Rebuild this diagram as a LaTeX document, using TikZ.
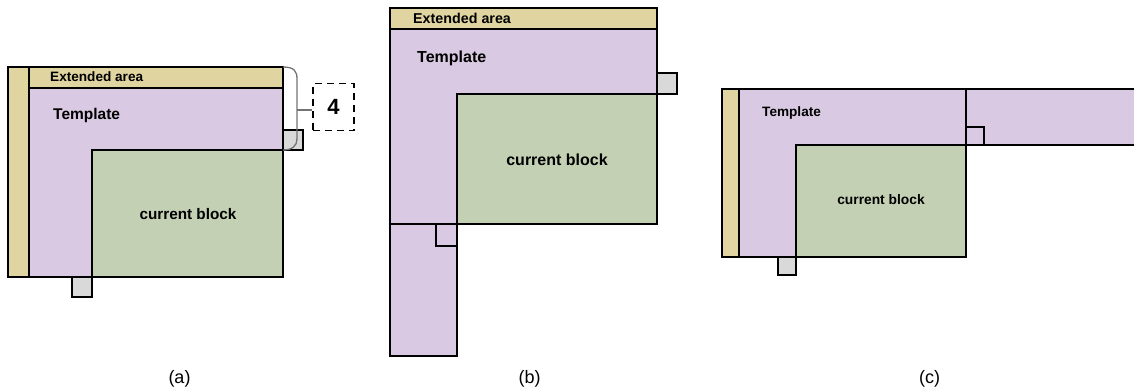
\documentclass[tikz,border=0pt]{standalone}
\usepackage{fontspec}
\setmainfont{Liberation Sans}
\definecolor{tan}{RGB}{224,212,160}
\definecolor{tpl}{RGB}{217,201,226}
\definecolor{cur}{RGB}{195,208,180}
\definecolor{gry}{RGB}{217,217,217}
\begin{document}
\begin{tikzpicture}[x=1pt,y=-1pt,
  edge/.style={draw=black,line width=1.8pt},
  tanbox/.style={edge,fill=tan},
  tplbox/.style={edge,fill=tpl},
  curbox/.style={edge,fill=cur},
  grybox/.style={edge,fill=gry},
  lbl/.style={inner sep=0pt,font=\bfseries},
  captxt/.style={inner sep=0pt,font=\fontsize{18}{20}\selectfont},
  bracestyle/.style={draw=black!55,line width=1.3pt}]
\useasboundingbox (0,0) rectangle (1134,391);

% ---------- (a) ----------
\draw[tanbox] (8,67) rectangle (29,277);
\draw[tanbox] (29,67) rectangle (283,88);
\draw[tplbox] (29,88) rectangle (283,277);
\draw[curbox] (92,150) rectangle (283,277);
\draw[grybox] (72,277) rectangle (92,297);
\draw[grybox] (283,130) rectangle (303,150);
\node[lbl,anchor=west,font=\bfseries\fontsize{13.6}{15}\selectfont] (aext) at (50,77) {Extended area};
\node[lbl,anchor=west,font=\bfseries\fontsize{15.5}{17}\selectfont] (atpl) at (53,115) {Template};
\node[lbl,font=\bfseries\fontsize{15.3}{17}\selectfont] (acur) at (188,214) {current block};
\node[draw=black,dash pattern=on 7pt off 5pt,line width=1.8pt,minimum width=41pt,minimum height=47pt,inner sep=0pt,font=\bfseries\fontsize{22}{24}\selectfont] (four) at (333.5,107) {4};
\coordinate (bmid) at (297,110);
\draw[bracestyle] (283,67) .. controls (294,67) and (297,71) .. (297,79) -- (297,139) .. controls (297,146) and (292,150) .. (283,150);
\draw[bracestyle] (bmid) -- (four.west |- bmid);
\node[captxt] (capa) at (179.5,379) {(a)};

% ---------- (b) ----------
\draw[tanbox] (390,8) rectangle (657,29);
\draw[tplbox] (390,29) rectangle (657,224);
\draw[curbox] (457,94) rectangle (657,224);
\draw[tplbox] (390,224) rectangle (457,356);
\draw[edge] (457,246) -- (436,246) -- (436,224);
\draw[grybox] (657,73) rectangle (677,94);
\node[lbl,anchor=west,font=\bfseries\fontsize{14.3}{16}\selectfont] (bext) at (413,18) {Extended area};
\node[lbl,anchor=west,font=\bfseries\fontsize{16}{18}\selectfont] (btpl) at (417,58) {Template};
\node[lbl,font=\bfseries\fontsize{16}{18}\selectfont] (bcur) at (557,160) {current block};
\node[captxt] (capb) at (529.5,379) {(b)};

% ---------- (c) ----------
\fill[tpl] (966,89) rectangle (1134,145);
\draw[edge] (966,89) -- (1135,89);
\draw[edge] (966,145) -- (1135,145);
\draw[tanbox] (722,89) rectangle (739,257);
\draw[tplbox] (739,89) rectangle (966,257);
\draw[curbox] (796,145) rectangle (966,257);
\draw[edge] (966,127) -- (984,127) -- (984,145);
\draw[grybox] (778,257) rectangle (796,275);
\node[lbl,anchor=west,font=\bfseries\fontsize{13.6}{15}\selectfont] (ctpl) at (762,113) {Template};
\node[lbl,font=\bfseries\fontsize{13.8}{15}\selectfont] (ccur) at (881,200) {current block};
\node[captxt] (capc) at (929.5,379) {(c)};
\end{tikzpicture}
\end{document}
